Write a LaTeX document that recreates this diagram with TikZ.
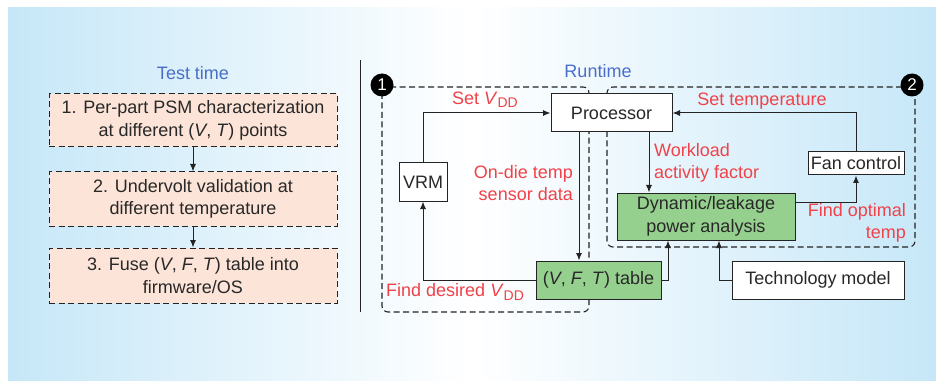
\documentclass[tikz,border=0pt]{standalone}
\usepackage{fontspec}
\setmainfont{Liberation Sans}
\usetikzlibrary{arrows.meta,calc}
\definecolor{bgblue}{RGB}{198,231,248}
\definecolor{linec}{RGB}{35,35,35}
\definecolor{textc}{RGB}{40,40,40}
\definecolor{peachc}{RGB}{252,228,216}
\definecolor{greenc}{RGB}{150,208,142}
\definecolor{redc}{RGB}{240,66,72}
\definecolor{bluec}{RGB}{74,110,200}
\newcommand\myfs{\fontsize{18}{22.5}\selectfont}
\newcommand\myvdd{\textit{V}\raisebox{-0.35ex}{\fontsize{14}{14}\selectfont DD}}
\tikzset{
  base/.style={draw=linec, line width=1pt, inner sep=0pt, align=center, text=textc, font=\myfs},
  peachbox/.style={base, fill=peachc, dash pattern=on 6pt off 3.5pt, minimum width=288pt},
  whitebox/.style={base, fill=white},
  greenbox/.style={base, fill=greenc},
  arr/.style={draw=linec, line width=1pt, -{Latex[length=7.5pt,width=6pt]}},
  lbl/.style={text=redc, font=\myfs, inner sep=0pt},
  ttl/.style={text=bluec, font=\myfs, inner sep=0pt},
  region/.style={draw=linec, line width=1.1pt, dash pattern=on 6pt off 3.5pt, rounded corners=6pt},
  badge/.style={circle, fill=black, text=white, minimum size=23pt, inner sep=0pt, font=\fontsize{17}{17}\selectfont}
}
\begin{document}
\begin{tikzpicture}[x=1pt,y=-1pt]
\useasboundingbox (0,0) rectangle (936,382);
\shade[left color=bgblue,right color=bgblue,middle color=white] (8,8) rectangle (936,380);

% left part
\node[ttl] (tt) at (193,73) {Test time};
\node[peachbox, minimum height=53pt] (b1) at (193,120.5) {1. Per-part PSM characterization\\at different (\textit{V}, \textit{T}) points};
\node[peachbox, minimum height=54pt] (b2) at (193,199) {2. Undervolt validation at\\different temperature};
\node[peachbox, minimum height=55pt] (b3) at (193,275.5) {3. Fuse (\textit{V}, \textit{F}, \textit{T}) table into\\firmware/OS};
\draw[arr] (b1) -- (b2);
\draw[arr] (b2) -- (b3);

% separator
\coordinate (s1) at (360,60);
\coordinate (s2) at (360,312);
\draw[linec, line width=1pt] (s1) -- (s2);

% right part
\node[ttl] (rt) at (598,71) {Runtime};
\draw[region] (607,87) rectangle (915,247);
\draw[region] (382,87) rectangle (589,312);
\node[badge] (bd1) at (382,85) {1};
\node[badge] (bd2) at (912,85) {2};

\node[whitebox, minimum width=121pt, minimum height=38pt] (proc) at (611.5,113) {Processor};
\node[whitebox, minimum width=48pt, minimum height=38pt] (vrm) at (423,182) {VRM};
\node[greenbox, minimum width=125pt, minimum height=38pt] (tab) at (598.5,280) {(\textit{V}, \textit{F}, \textit{T}) table};
\node[greenbox, minimum width=178pt, minimum height=47pt] (dyn) at (706,216.5) {Dynamic/leakage\\power analysis};
\node[whitebox, minimum width=96pt, minimum height=23pt] (fan) at (856,163.5) {Fan control};
\node[whitebox, minimum width=172pt, minimum height=38pt] (tech) at (818,280) {Technology model};

\draw[arr] (vrm.north) |- (proc.west);
\draw[arr] ([xshift=-32.5pt]proc.south) -- ([xshift=-32.5pt]proc.south |- tab.north);
\draw[arr] (tab.west) -| (vrm.south);
\draw[arr] ([xshift=37.5pt]proc.south) -- ([xshift=37.5pt]proc.south |- dyn.north);
\draw[arr] ([yshift=14.5pt]dyn.east) -| (fan.south);
\draw[arr] (fan.north) |- (proc.east);
\draw[arr] (tab.east) -| ([xshift=-38pt]dyn.south);
\draw[arr] (tech.west) -| ([xshift=13pt]dyn.south);

\node[lbl] (l1) at (485,100) {Set \myvdd};
\node[lbl, anchor=east, align=right] (l2) at (573,183) {On-die temp\\sensor data};
\node[lbl, anchor=west] (l3) at (386,292) {Find desired \myvdd};
\node[lbl, anchor=west, align=left] (l4) at (654,163) {Workload\\activity factor};
\node[lbl, anchor=east, align=right] (l5) at (906,223) {Find optimal\\temp};
\node[lbl] (l6) at (762,101) {Set temperature};
\end{tikzpicture}
\end{document}
